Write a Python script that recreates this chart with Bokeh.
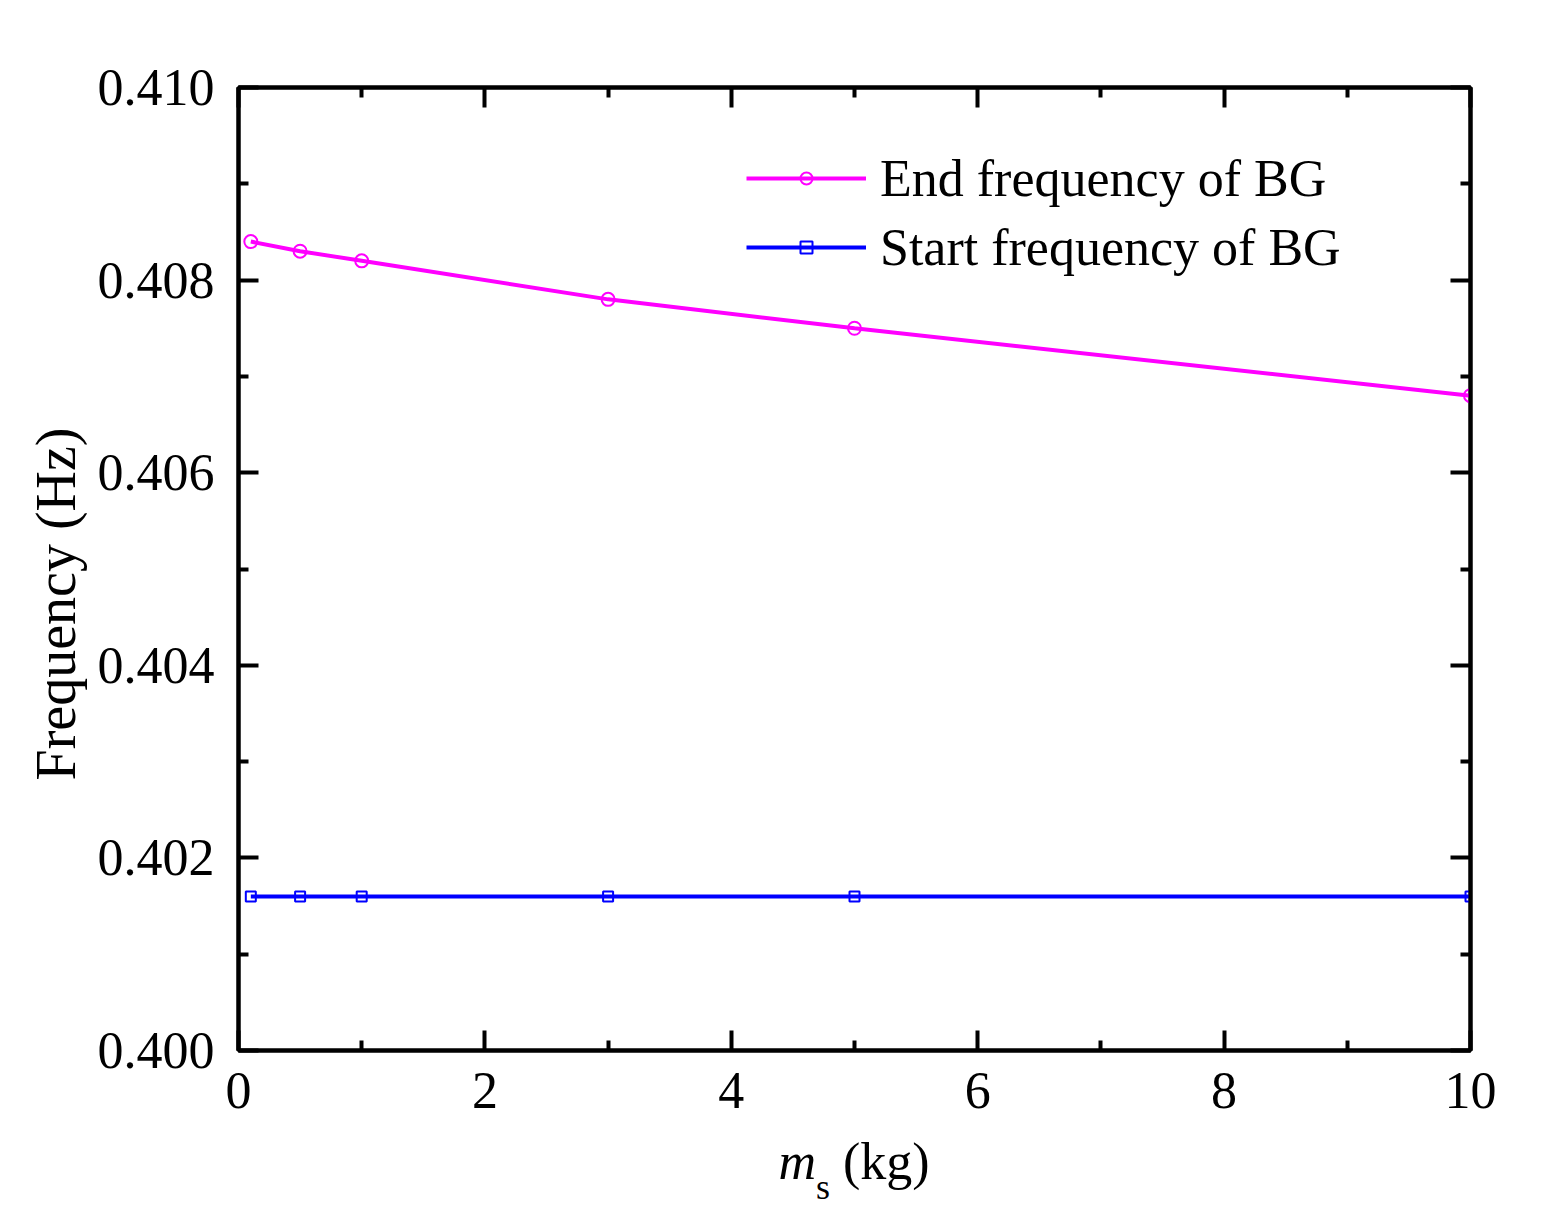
from bokeh.plotting import figure
from bokeh.models import (Range1d, FixedTicker, LinearAxis, Legend, LegendItem,
                          NumeralTickFormatter, CustomJSTickFormatter, Div)
from bokeh.layouts import column
from bokeh.embed import file_html
from bokeh.resources import INLINE

# ---- data ----
mass_kg = [0.1, 0.5, 1, 3, 5, 10]
end_freq = [0.4084, 0.4083, 0.4082, 0.4078, 0.4075, 0.4068]
start_freq = [0.4016, 0.4016, 0.4016, 0.4016, 0.4016, 0.4016]
x_major = [0, 2, 4, 6, 8, 10]
x_minor = [1, 3, 5, 7, 9]
y_major = [0.400, 0.402, 0.404, 0.406, 0.408, 0.410]
y_minor = [0.401, 0.403, 0.405, 0.407, 0.409]
end_label = "End frequency of BG"
start_label = "Start frequency of BG"
y_title = "Frequency (Hz)"
x_title_html = "<i>m</i><sub style='font-size:36px;vertical-align:-20px'>s</sub> (kg)"

FONT = "Liberation Serif"
FS = "52px"

p = figure(frame_width=1232, frame_height=963,
           min_border_left=238, min_border_right=70, min_border_top=87, min_border_bottom=86,
           x_range=Range1d(0, 10), y_range=Range1d(0.400, 0.410),
           output_backend="svg", toolbar_location=None,
           background_fill_color="white", border_fill_color="white")
p.grid.visible = False
p.outline_line_color = "black"
p.outline_line_width = 4

def style_axis(ax):
    ax.axis_line_width = 4
    ax.axis_line_color = "black"
    ax.major_tick_in = 20
    ax.major_tick_out = 0
    ax.minor_tick_in = 10
    ax.minor_tick_out = 0
    ax.major_tick_line_width = 4
    ax.minor_tick_line_width = 4
    ax.major_tick_line_color = "black"
    ax.minor_tick_line_color = "black"
    ax.major_label_text_font = FONT
    ax.major_label_text_font_size = FS
    ax.major_label_text_color = "black"

p.xaxis.ticker = FixedTicker(ticks=x_major, minor_ticks=x_minor)
p.yaxis.ticker = FixedTicker(ticks=y_major, minor_ticks=y_minor)
p.yaxis.formatter = NumeralTickFormatter(format="0.000")
style_axis(p.xaxis[0])
style_axis(p.yaxis[0])
p.xaxis.major_label_standoff = 22
p.yaxis.major_label_standoff = 24
# trailing no-break spaces shift the centred title slightly down, as in the reference
p.yaxis.axis_label = y_title + "\u00a0" * 5
p.yaxis.axis_label_text_font = FONT
p.yaxis.axis_label_text_font_size = "56px"
p.yaxis.axis_label_text_font_style = "normal"
p.yaxis.axis_label_text_color = "black"
p.yaxis.axis_label_standoff = 8

blank = CustomJSTickFormatter(code="return ''")
top = LinearAxis(ticker=FixedTicker(ticks=x_major, minor_ticks=x_minor), formatter=blank)
style_axis(top)
top.major_label_standoff = 0
p.add_layout(top, "above")
right = LinearAxis(ticker=FixedTicker(ticks=y_major, minor_ticks=y_minor), formatter=blank)
style_axis(right)
right.major_label_standoff = 0
p.add_layout(right, "right")

l1 = p.line(mass_kg, end_freq, line_color="#FF00FF", line_width=4)
m1 = p.scatter(mass_kg, end_freq, marker="circle", size=13, fill_color=None,
               line_color="#FF00FF", line_width=2)
l2 = p.line(mass_kg, start_freq, line_color="#0000FF", line_width=4)
m2 = p.scatter(mass_kg, start_freq, marker="square", size=10, fill_color=None,
               line_color="#0000FF", line_width=2)

legend = Legend(items=[LegendItem(label=end_label, renderers=[l1, m1]),
                       LegendItem(label=start_label, renderers=[l2, m2])],
                location=(508, 773))
legend.label_text_font = FONT
legend.label_text_font_size = FS
legend.label_text_color = "black"
legend.glyph_width = 120
legend.glyph_height = 30
legend.label_height = 60
legend.spacing = 9
legend.padding = 0
legend.margin = 0
legend.label_standoff = 14
legend.border_line_color = None
legend.background_fill_alpha = 0
p.add_layout(legend)

xtitle = Div(text=x_title_html, width=1232, height=80, margin=(0, 0, 0, 238),
             styles={"font-family": FONT, "font-size": FS, "line-height": "52px",
                     "text-align": "center", "color": "black", "white-space": "nowrap"})

layout = column(p, xtitle, spacing=0)
open("out.html", "w").write(file_html(layout, INLINE))
